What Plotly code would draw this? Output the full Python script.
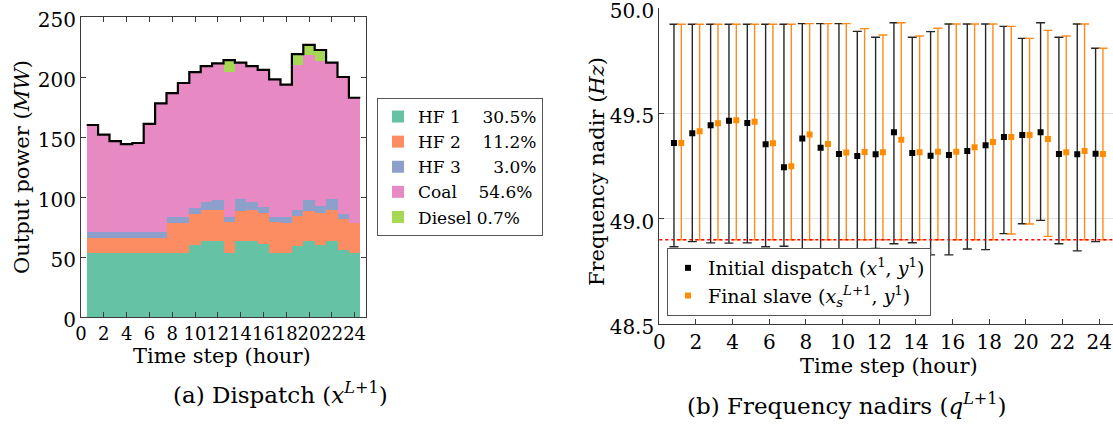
import plotly.graph_objects as go

# ---------------- data: (a) dispatch ----------------
hours = list(range(1, 25))
hf1 = [53] * 9 + [60, 63, 63, 53, 63, 63, 61, 53, 53, 59, 63, 60, 63, 56, 53]
hf2 = [12.7] * 7 + [25.3, 25.3, 26, 26, 26, 26.4, 25.3, 26, 25.6, 26.4, 25.3, 25.4, 25.3, 26.6, 26, 25.6, 25.3]
hf3 = [5.3] * 7 + [5, 5, 5, 7, 8.7, 4, 10, 7, 5, 4, 4.7, 4.6, 9.4, 6, 9.3, 4.4, 0]
diesel = [0] * 12 + [10] + [0] * 5 + [9, 8.5, 9] + [0] * 3
total = [160, 152, 146.5, 144, 145, 161, 178, 186.6, 195, 204, 209, 211.4,
         214, 212, 209, 206, 198, 193.6, 219, 226.7, 222.5, 212, 200, 182.7]
coal = [t - a - b - c - d for t, a, b, c, d in zip(total, hf1, hf2, hf3, diesel)]

gen_names = ["HF 1\u00a0\u00a0\u00a0\u00a030.5%", "HF 2\u00a0\u00a0\u00a0\u00a011.2%",
             "HF 3\u00a0\u00a0\u00a0\u00a0\u00a0\u00a03.0%", "Coal\u00a0\u00a0\u00a0\u00a054.6%",
             "Diesel 0.7%"]
gen_colors = ["#66c2a5", "#fc8d62", "#8da0cb", "#e78ac3", "#a6d854"]

# ---------------- data: (b) frequency nadirs ----------------
init_nadir = [49.359, 49.405, 49.443, 49.465, 49.454, 49.353, 49.244, 49.380, 49.337, 49.307, 49.298, 49.306,
              49.410, 49.312, 49.299, 49.302, 49.321, 49.348, 49.388, 49.397, 49.410, 49.307, 49.306, 49.308]
init_upper = [49.923] * 7 + [49.926, 49.926, 49.926, 49.889, 49.861, 49.930, 49.861, 49.888, 49.924,
                             49.924, 49.924, 49.913, 49.856, 49.930, 49.861, 49.924, 49.809]
init_lower = [48.867, 48.891, 48.885, 48.884, 48.885, 48.867, 48.869, 48.848, 48.855, 48.840, 48.826, 48.859,
              48.881, 48.886, 48.828, 48.828, 48.856, 48.853, 48.929, 48.976, 48.992, 48.881, 48.847, 48.891]
final_nadir = [49.359, 49.415, 49.453, 49.467, 49.460, 49.358, 49.249, 49.399, 49.355, 49.314, 49.317, 49.315,
               49.375, 49.315, 49.318, 49.318, 49.339, 49.364, 49.388, 49.397, 49.378, 49.315, 49.321, 49.307]
final_upper = [49.923] * 7 + [49.926, 49.926, 49.926, 49.902, 49.872, 49.930, 49.867, 49.904, 49.924,
                              49.924, 49.924, 49.913, 49.856, 49.894, 49.867, 49.924, 49.809]
final_lower = [48.9] * 18 + [48.927, 48.975, 48.916] + [48.9] * 3
nadir_limit = 48.9
offset = 0.2

FONT = "DejaVu Serif"
fig = go.Figure()

# ---- left stacked bars ----
for vals, name, col in zip([hf1, hf2, hf3, coal, diesel], gen_names, gen_colors):
    fig.add_trace(go.Bar(x=hours, y=vals, name=name, marker=dict(color=col, line=dict(width=0)),
                         width=1, xaxis="x", yaxis="y", legend="legend"))
edges = [h - 0.5 for h in hours] + [hours[-1] + 0.5]
fig.add_trace(go.Scatter(x=edges, y=total + [total[-1]], mode="lines", line=dict(color="black", width=2.2, shape="hv"),
                         showlegend=False, xaxis="x", yaxis="y"))

# ---- right error bar scatter ----
fig.add_trace(go.Scatter(
    x=[h - offset for h in hours], y=init_nadir, mode="markers",
    marker=dict(symbol="square", size=6, color="black"),
    error_y=dict(type="data", symmetric=False,
                 array=[u - y for u, y in zip(init_upper, init_nadir)],
                 arrayminus=[y - l for l, y in zip(init_lower, init_nadir)],
                 color="#262626", thickness=1.4, width=4.5),
    name="Initial dispatch (<i>x</i><sup>1</sup>, <i>y</i><sup>1</sup>)",
    xaxis="x2", yaxis="y2", legend="legend2"))
fig.add_trace(go.Scatter(
    x=[h + offset for h in hours], y=final_nadir, mode="markers",
    marker=dict(symbol="square", size=6, color="#ff8c00"),
    error_y=dict(type="data", symmetric=False,
                 array=[u - y for u, y in zip(final_upper, final_nadir)],
                 arrayminus=[y - l for l, y in zip(final_lower, final_nadir)],
                 color="#ff8c1a", thickness=1.4, width=4.5),
    name="Final slave (<i>x</i><sub><i>s</i></sub><sup><i>L</i>+1</sup>, <i>y</i><sup>1</sup>)",
    xaxis="x2", yaxis="y2", legend="legend2"))
fig.add_shape(type="line", xref="x2 domain", yref="y2", x0=0, x1=1, y0=nadir_limit, y1=nadir_limit,
              line=dict(color="red", width=1.5, dash="dot"))

W, H = 1113, 425
axis_common = dict(showline=True, linecolor="#3a3a3a", linewidth=1.2, ticks="inside", ticklen=5,
                   tickcolor="#3a3a3a", automargin=False, zeroline=False, tickangle=0,
                   ticklabeloverflow="allow")


def tf(size):
    return dict(family=FONT, size=size, color="black")


fig.update_layout(
    width=W, height=H, margin=dict(l=0, r=0, t=0, b=0),
    paper_bgcolor="white", plot_bgcolor="white",
    barmode="stack", bargap=0,
    font=dict(family=FONT, size=18, color="black"),
    xaxis=dict(domain=[81 / W, 366 / W], range=[0, 25], tickvals=list(range(0, 25, 2)),
               mirror="ticks", showgrid=False, anchor="y", tickfont=tf(18), **axis_common),
    yaxis=dict(domain=[1 - 317 / H, 1 - 17 / H], range=[0, 250], tickvals=list(range(0, 251, 50)),
               mirror="ticks", showgrid=False, anchor="x", tickfont=tf(20), ticklabelshift=3, **axis_common),
    xaxis2=dict(domain=[659.3 / W, 1.0], range=[0, 24.75], tickvals=list(range(0, 25, 2)),
                showgrid=False, anchor="y2", tickfont=tf(20), **axis_common),
    yaxis2=dict(domain=[1 - 324 / H, 1 - 8 / H], range=[48.5, 50.0], tickvals=[48.5, 49.0, 49.5, 50.0],
                tickformat=".1f", showgrid=True, gridcolor="#e3e3e3", gridwidth=1.2, anchor="x2",
                tickfont=tf(20), ticklabelshift=3, **axis_common),
    legend=dict(x=377 / W, y=1 - 167 / H, xanchor="left", yanchor="middle", bgcolor="white",
                bordercolor="#555", borderwidth=1, font=dict(family=FONT, size=17),
                tracegroupgap=0, traceorder="normal"),
    legend2=dict(x=667 / W, y=1 - 316 / H, xanchor="left", yanchor="bottom", bgcolor="white",
                 bordercolor="#555", borderwidth=1, font=dict(family=FONT, size=19)),
    showlegend=True,
)

ann = [
    dict(text="Output power (<i>MW</i>)", x=22 / W, y=1 - 167 / H, textangle=-90, size=21),
    dict(text="Time step (hour)", x=222 / W, y=1 - 356 / H, size=21),
    dict(text="(a) Dispatch (<i>x</i><sup><i>L</i>+1</sup>)", x=280 / W, y=1 - 393 / H, size=23),
    dict(text="Frequency nadir (<i>Hz</i>)", x=597 / W, y=1 - 172 / H, textangle=-90, size=21),
    dict(text="Time step (hour)", x=889 / W, y=1 - 366 / H, size=21),
    dict(text="(b) Frequency nadirs (<i>q</i><sup><i>L</i>+1</sup>)", x=847 / W, y=1 - 404 / H, size=23),
]
for a in ann:
    s = a.pop("size")
    fig.add_annotation(xref="paper", yref="paper", showarrow=False, xanchor="center", yanchor="middle",
                       font=tf(s), **a)

fig.write_html("out.html", config={"displayModeBar": False},
               post_script="document.body.style.margin='0';document.body.style.overflow='hidden';")
